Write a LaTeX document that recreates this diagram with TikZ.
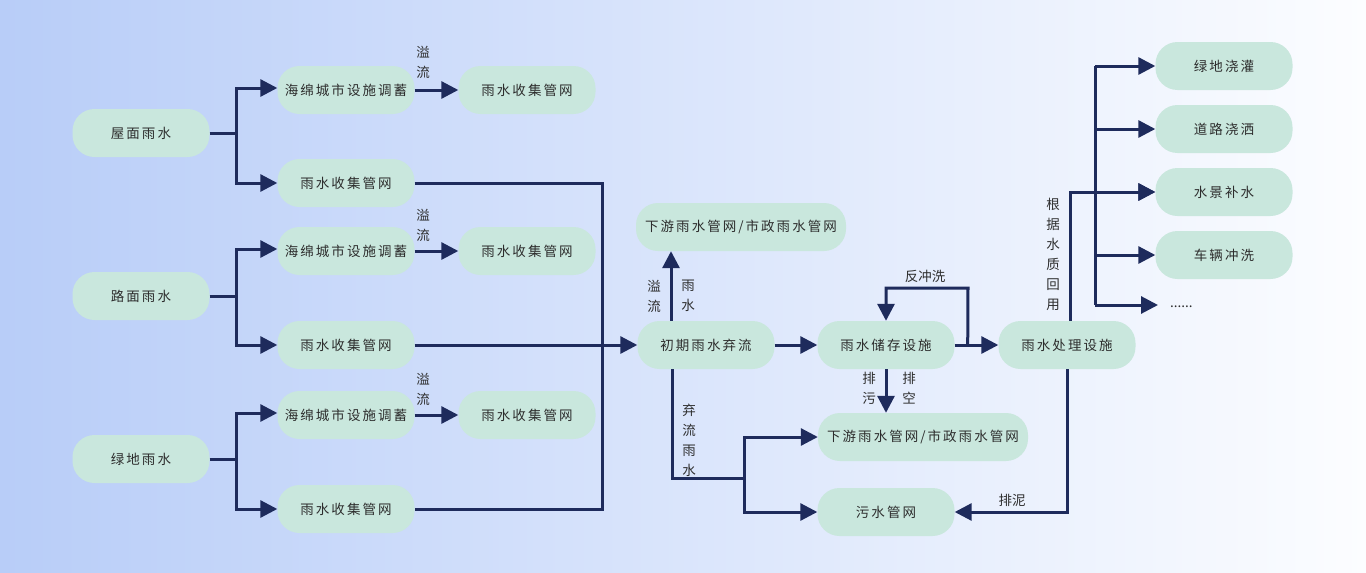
\documentclass[tikz,border=0pt]{standalone}
\usepackage{fontspec}
\usepackage{tikz}
\usetikzlibrary{
    positioning,
    arrows.meta,
    calc
}
\newfontfamily\cjk{Noto Sans CJK SC}
\newfontfamily\cjkwide[LetterSpace=15]{Noto Sans CJK SC}
\definecolor{navy}{RGB}{30,43,92}
\definecolor{boxfill}{RGB}{201,231,221}
\definecolor{textgray}{RGB}{45,45,45}
\definecolor{bgleft}{RGB}{184,205,248}
\definecolor{bgright}{RGB}{252,253,255}
\tikzset{
    box/.style={
        rectangle, fill=boxfill, rounded corners=22pt,
        minimum width=137pt, minimum height=48pt, inner sep=0pt,
        font=\cjkwide\fontsize{13.5}{16}\selectfont, text=textgray
    },
    widebox/.style={
        box, minimum width=210pt
    },
    flow/.style={
        -{Triangle[length=17pt,width=17pt]}, line width=3pt, draw=navy
    },
    pipe/.style={
        line width=3pt, draw=navy
    },
    lbl/.style={
        font=\cjk\fontsize{13.5}{20}\selectfont, text=textgray,
        align=center, inner sep=0pt
    }
}
\begin{document}
\begin{tikzpicture}[x=1pt, y=-1pt]
    \shade[left color=bgleft, right color=bgright] (0,0) rectangle (1366,573);
    \useasboundingbox (0,0) rectangle (1366,573);

    % sources
    \node[box] (roof) at (141,133) {屋面雨水};
    \node[box] (road) at (141,296) {路面雨水};
    \node[box] (green) at (141,459) {绿地雨水};

    % sponge facilities and collection networks
    \node[box] (sponge1) at (346,90) {海绵城市设施调蓄};
    \node[box] (over1) at (527,90) {雨水收集管网};
    \node[box] (col1) at (346,183) {雨水收集管网};
    \node[box] (sponge2) at (346,251) {海绵城市设施调蓄};
    \node[box] (over2) at (527,251) {雨水收集管网};
    \node[box] (col2) at (346,345) {雨水收集管网};
    \node[box] (sponge3) at (346,415) {海绵城市设施调蓄};
    \node[box] (over3) at (527,415) {雨水收集管网};
    \node[box] (col3) at (346,509) {雨水收集管网};

    % treatment chain
    \node[box] (first) at (706,345) {初期雨水弃流};
    \node[widebox] (down1) at (741,227) {下游雨水管网/市政雨水管网};
    \node[box] (store) at (886,345) {雨水储存设施};
    \node[box] (treat) at (1067,345) {雨水处理设施};
    \node[widebox] (down2) at (923,437) {下游雨水管网/市政雨水管网};
    \node[box] (sewer) at (886,512) {污水管网};

    % reuse
    \node[box] (use1) at (1224,66) {绿地浇灌};
    \node[box] (use2) at (1224,129) {道路浇洒};
    \node[box] (use3) at (1224,192) {水景补水};
    \node[box] (use4) at (1224,255) {车辆冲洗};
    \node[lbl, anchor=west, inner sep=12pt] (more) at (1158,305)
        {\raisebox{-2pt}[0pt][0pt]{......}};

    % branches from the sources
    \foreach \src/\up/\dn in {roof/sponge1/col1, road/sponge2/col2, green/sponge3/col3} {
        \draw[pipe] (\src.east) -- ++(27,0) coordinate (j\src);
        \draw[flow] (j\src) |- ([yshift=2pt]\up.west);
        \draw[flow] (j\src) |- (\dn.west);
    }
    \foreach \a/\b in {sponge1/over1, sponge2/over2, sponge3/over3}
        \draw[flow] (\a.east) -- (\b.west);
    \node[lbl] at (423,62) {溢\\流};
    \node[lbl] at (423,225) {溢\\流};
    \node[lbl] at (423,389) {溢\\流};

    % collector
    \coordinate (bus) at (602,345);
    \draw[pipe] (col1.east) -| (bus) |- (col3.east);
    \draw[flow] (col2.east) -- (first.west);

    % first flush
    \draw[flow] ([xshift=-35pt]first.north) -- ([xshift=-35pt]first.north |- down1.south);
    \node[lbl] at (654,296) {溢\\流};
    \node[lbl] at (688,296) {雨\\水};
    \coordinate (split) at (744,478);
    \draw[pipe] ([xshift=-34pt]first.south) |- (split);
    \draw[flow] (split) |- (down2.west);
    \draw[flow] (split) |- (sewer.west);
    \node[lbl] at (689,440) {弃\\流\\雨\\水};

    % storage
    \draw[flow] (first.east) -- (store.west);
    \draw[flow] (store.east) -- (treat.west);
    \coordinate (bwtop) at (968,288);
    \draw[flow] ([xshift=13pt]store.east) -- (bwtop) -| (store.north);
    \node[lbl] at (925,276) {反冲洗};
    \draw[flow] (store.south) -- (store.south |- down2.north);
    \node[lbl] at (869,388) {排\\污};
    \node[lbl] at (909,388) {排\\空};

    % treatment
    \draw[flow] (treat.south) |- (sewer.east);
    \node[lbl] at (1012,500) {排泥};
    \draw[flow] ([xshift=3pt]treat.north) |- (use3.west);
    \node[lbl] at (1053,254) {根\\据\\水\\质\\回\\用};
    \coordinate (trunk) at (1095,66);
    \draw[pipe] (trunk) -- (trunk |- more.west);
    \foreach \u in {use1, use2, use3, use4, more}
        \draw[flow] (\u.west -| trunk) -- (\u.west);
\end{tikzpicture}
\end{document}
